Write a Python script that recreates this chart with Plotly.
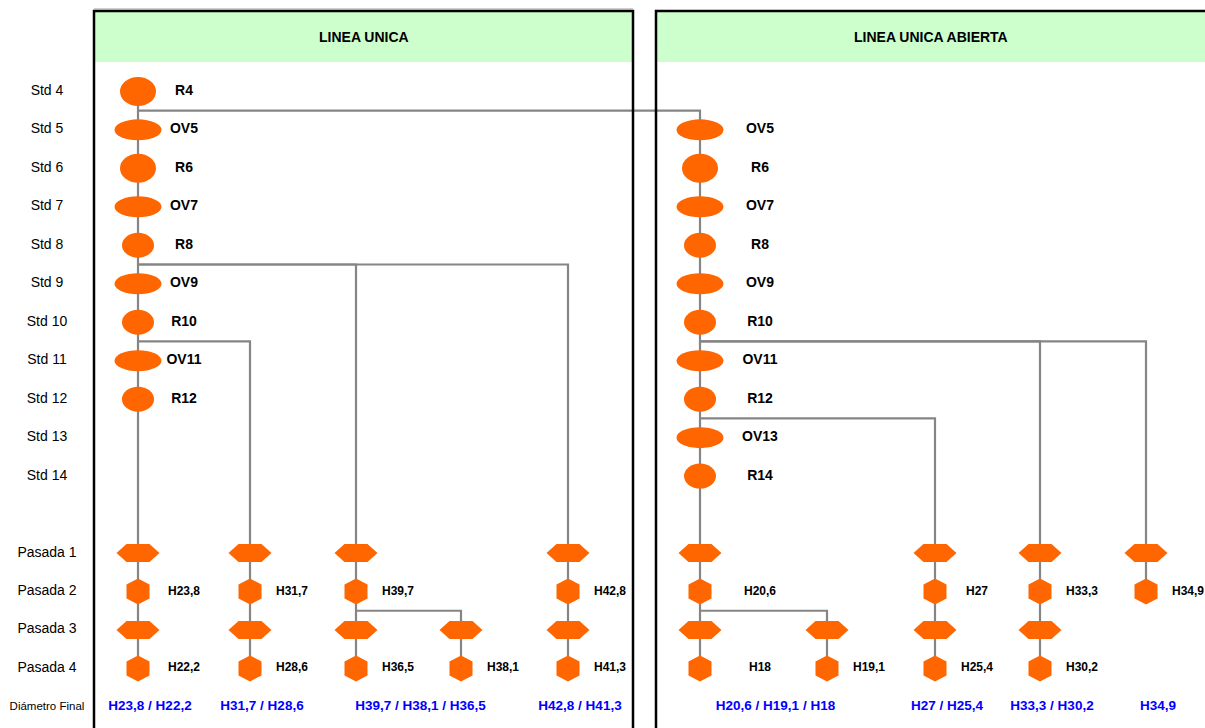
import plotly.graph_objects as go

# ---------------- data ----------------
ROWS = ["Std 4", "Std 5", "Std 6", "Std 7", "Std 8", "Std 9", "Std 10", "Std 11",
        "Std 12", "Std 13", "Std 14", "", "Pasada 1", "Pasada 2", "Pasada 3",
        "Pasada 4", "Diámetro Final"]

PANEL_TITLES = ["LINEA UNICA", "LINEA UNICA ABIERTA"]

STANDS_LEFT = ["R4", "OV5", "R6", "OV7", "R8", "OV9", "R10", "OV11", "R12"]
STANDS_LEFT_ROWS = ["Std 4", "Std 5", "Std 6", "Std 7", "Std 8", "Std 9", "Std 10",
                    "Std 11", "Std 12"]
STANDS_RIGHT = ["OV5", "R6", "OV7", "R8", "OV9", "R10", "OV11", "R12", "OV13", "R14"]
STANDS_RIGHT_ROWS = ["Std 5", "Std 6", "Std 7", "Std 8", "Std 9", "Std 10", "Std 11",
                     "Std 12", "Std 13", "Std 14"]

COLUMNS = ["L1", "L2", "L3", "L4", "L5", "R1", "R2", "R3", "R4", "R5"]
COL_FIRST_PASS = ["Pasada 1", "Pasada 1", "Pasada 1", "Pasada 3", "Pasada 1",
                  "Pasada 1", "Pasada 3", "Pasada 1", "Pasada 1", "Pasada 1"]
COL_LAST_PASS = ["Pasada 4", "Pasada 4", "Pasada 4", "Pasada 4", "Pasada 4",
                 "Pasada 4", "Pasada 4", "Pasada 4", "Pasada 4", "Pasada 2"]
PASS2_LABELS = ["H23,8", "H31,7", "H39,7", "", "H42,8",
                "H20,6", "", "H27", "H33,3", "H34,9"]
PASS4_LABELS = ["H22,2", "H28,6", "H36,5", "H38,1", "H41,3",
                "H18", "H19,1", "H25,4", "H30,2", ""]

FINAL_LABELS = ["H23,8 / H22,2", "H31,7 / H28,6", "H39,7 / H38,1 / H36,5",
                "H42,8 / H41,3", "H20,6 / H19,1 / H18", "H27 / H25,4",
                "H33,3 / H30,2", "H34,9"]
FINAL_FROM = ["L1", "L2", "L3", "L5", "R1", "R3", "R4", "R5"]
FINAL_TO = ["L1", "L2", "L4", "L5", "R2", "R3", "R4", "R5"]

# connections: branch leaves FROM column just after row AFTER, goes to TO column,
# then runs down to row END
BRANCH_FROM = ["L1", "L1", "L1", "L1", "L3", "R1", "R1", "R1", "R1"]
BRANCH_AFTER = ["Std 4", "Std 8", "Std 8", "Std 10", "Pasada 2",
                "Std 10", "Std 10", "Std 12", "Pasada 2"]
BRANCH_TO = ["R1", "L3", "L5", "L2", "L4", "R4", "R5", "R3", "R2"]
BRANCH_END = ["Pasada 4", "Pasada 4", "Pasada 4", "Pasada 4", "Pasada 4",
              "Pasada 4", "Pasada 2", "Pasada 4", "Pasada 4"]
MAIN_START = "Std 4"
MAIN_END = "Pasada 4"

# ---------------- layout / style ----------------
W, H = 1205, 728
ROW0_PX, DY = 91.4, 38.47         # pixel y of first row, pixels per row
COL_X = dict(zip(COLUMNS, [138, 250, 356, 461, 568, 700, 827, 935, 1040, 1146]))
PANEL_X = [(94, 633), (656, 1216)]
PANEL_MAIN = ["L1", "R1"]
PANEL_LABEL_DX = [46, 60]
LABEL_DX = 42
ROW_LABEL_X = 47

ORANGE = "#FF6600"
GRAY = "#858585"
GREEN = "#CCFFCC"
BLUE = "#0000FF"
FONT = "Liberation Sans, Arial, sans-serif"


def ry(px):
    """pixel y -> row units (used for decorative layout only)"""
    return (px - ROW0_PX) / DY


def rowi(name):
    return ROWS.index(name)


def col_panel(c):
    return 0 if c.startswith("L") else 1


def label_x(c):
    p = col_panel(c)
    if c == PANEL_MAIN[p]:
        return COL_X[c] + PANEL_LABEL_DX[p]
    return COL_X[c] + LABEL_DX


fig = go.Figure()
shapes = []

# panels, headers
for p, (x0, x1) in enumerate(PANEL_X):
    shapes.append(dict(type="rect", xref="x", yref="y", x0=x0, x1=x1,
                       y0=ry(11), y1=ry(62), fillcolor=GREEN, line_width=0,
                       layer="below"))
    shapes.append(dict(type="rect", xref="x", yref="y", x0=x0, x1=x1,
                       y0=ry(11), y1=ry(760), line=dict(color="black", width=2.5),
                       fillcolor="rgba(0,0,0,0)", layer="above"))
shapes.append(dict(type="line", xref="x", yref="y", x0=PANEL_X[0][0], x1=PANEL_X[0][1],
                   y0=ry(9.2), y1=ry(9.2), line=dict(color="#A0A0A0", width=1.2)))

# connector lines
lx, ly = [], []
lx += [COL_X["L1"], COL_X["L1"], None]
ly += [rowi(MAIN_START), rowi(MAIN_END), None]
for f, a, t, e in zip(BRANCH_FROM, BRANCH_AFTER, BRANCH_TO, BRANCH_END):
    yb = rowi(a) + 0.5
    lx += [COL_X[f], COL_X[t], COL_X[t], None]
    ly += [yb, yb, rowi(e), None]
fig.add_trace(go.Scatter(x=lx, y=ly, mode="lines", line=dict(color=GRAY, width=2.2),
                         hoverinfo="skip"))


def ellipse(cx, cy, wpx, hpx):
    return dict(type="circle", xref="x", yref="y", x0=cx - wpx / 2, x1=cx + wpx / 2,
                y0=cy - hpx / 2 / DY, y1=cy + hpx / 2 / DY, fillcolor=ORANGE,
                line_width=0, layer="above")


def hex_wide(cx, cy, wpx=43, hpx=18, inset=10):
    h = hpx / 2 / DY
    pts = [(cx - wpx / 2, cy), (cx - wpx / 2 + inset, cy - h), (cx + wpx / 2 - inset, cy - h),
           (cx + wpx / 2, cy), (cx + wpx / 2 - inset, cy + h), (cx - wpx / 2 + inset, cy + h)]
    path = "M " + " L ".join(f"{x},{y}" for x, y in pts) + " Z"
    return dict(type="path", xref="x", yref="y", path=path, fillcolor=ORANGE,
                line_width=0, layer="above")


def hex_tall(cx, cy, wpx=23, hpx=26, inset=6):
    h = hpx / 2 / DY
    i = inset / DY
    pts = [(cx, cy - h), (cx + wpx / 2, cy - h + i), (cx + wpx / 2, cy + h - i),
           (cx, cy + h), (cx - wpx / 2, cy + h - i), (cx - wpx / 2, cy - h + i)]
    path = "M " + " L ".join(f"{x},{y}" for x, y in pts) + " Z"
    return dict(type="path", xref="x", yref="y", path=path, fillcolor=ORANGE,
                line_width=0, layer="above")


def stand_shape(name, cx, cy):
    if name.startswith("OV"):
        return ellipse(cx, cy, 47, 21)
    num = int(name[1:])
    if num <= 6:
        return ellipse(cx, cy, 36, 29)
    return ellipse(cx, cy, 32, 25)


tx, ty, tt = [], [], []
for p, (names, rows) in enumerate([(STANDS_LEFT, STANDS_LEFT_ROWS),
                                   (STANDS_RIGHT, STANDS_RIGHT_ROWS)]):
    main = PANEL_MAIN[p]
    for n, r in zip(names, rows):
        shapes.append(stand_shape(n, COL_X[main], rowi(r)))
        tx.append(label_x(main))
        ty.append(rowi(r))
        tt.append(n)

fig.add_trace(go.Scatter(x=tx, y=ty, text=tt, mode="text", textposition="middle center",
                         textfont=dict(family=FONT, size=14, color="black", weight="bold"),
                         hoverinfo="skip", cliponaxis=False))

# passes
px_, py_, pt_ = [], [], []
for i, c in enumerate(COLUMNS):
    a, b = rowi(COL_FIRST_PASS[i]), rowi(COL_LAST_PASS[i])
    for r in range(a, b + 1):
        kind = ROWS[r]
        if kind in ("Pasada 1", "Pasada 3"):
            shapes.append(hex_wide(COL_X[c], r))
        else:
            shapes.append(hex_tall(COL_X[c], r))
    for lbl, rr in ((PASS2_LABELS[i], "Pasada 2"), (PASS4_LABELS[i], "Pasada 4")):
        if lbl:
            px_.append(label_x(c))
            py_.append(rowi(rr))
            pt_.append(lbl)

fig.add_trace(go.Scatter(x=px_, y=py_, text=pt_, mode="text", textposition="middle center",
                         textfont=dict(family=FONT, size=12, color="black", weight="bold"),
                         hoverinfo="skip", cliponaxis=False))

# final diameters
fx = [(COL_X[a] + COL_X[b]) / 2 + 12 for a, b in zip(FINAL_FROM, FINAL_TO)]
fy = [rowi("Diámetro Final")] * len(FINAL_LABELS)
fig.add_trace(go.Scatter(x=fx, y=fy, text=FINAL_LABELS, mode="text",
                         textposition="middle center",
                         textfont=dict(family=FONT, size=13.5, color=BLUE, weight="bold"),
                         hoverinfo="skip", cliponaxis=False))

# row labels
row_names = [r for r in ROWS if r]
fig.add_trace(go.Scatter(
    x=[ROW_LABEL_X] * len(row_names), y=[rowi(r) for r in row_names], text=row_names,
    mode="text", textposition="middle center",
    textfont=dict(family=FONT, color="black",
                  size=[11.5 if r == "Diámetro Final" else 14 for r in row_names]),
    hoverinfo="skip", cliponaxis=False))

annotations = []
for p, t in enumerate(PANEL_TITLES):
    x0, x1 = PANEL_X[p]
    x1v = min(x1, W)
    annotations.append(dict(x=(x0 + x1v) / 2, y=ry(37), xref="x", yref="y", text=t,
                            showarrow=False,
                            font=dict(family=FONT, size=14, color="black", weight="bold")))

fig.update_layout(
    width=W, height=H, margin=dict(l=0, r=0, t=0, b=0),
    paper_bgcolor="white", plot_bgcolor="white", showlegend=False,
    xaxis=dict(range=[0, W], visible=False, fixedrange=True),
    yaxis=dict(range=[ry(H), ry(0)], visible=False, fixedrange=True),
    shapes=shapes, annotations=annotations,
)

fig.write_html("out.html", config={"displayModeBar": False},
               post_script="document.body.style.margin='0';document.body.style.overflow='hidden';")
